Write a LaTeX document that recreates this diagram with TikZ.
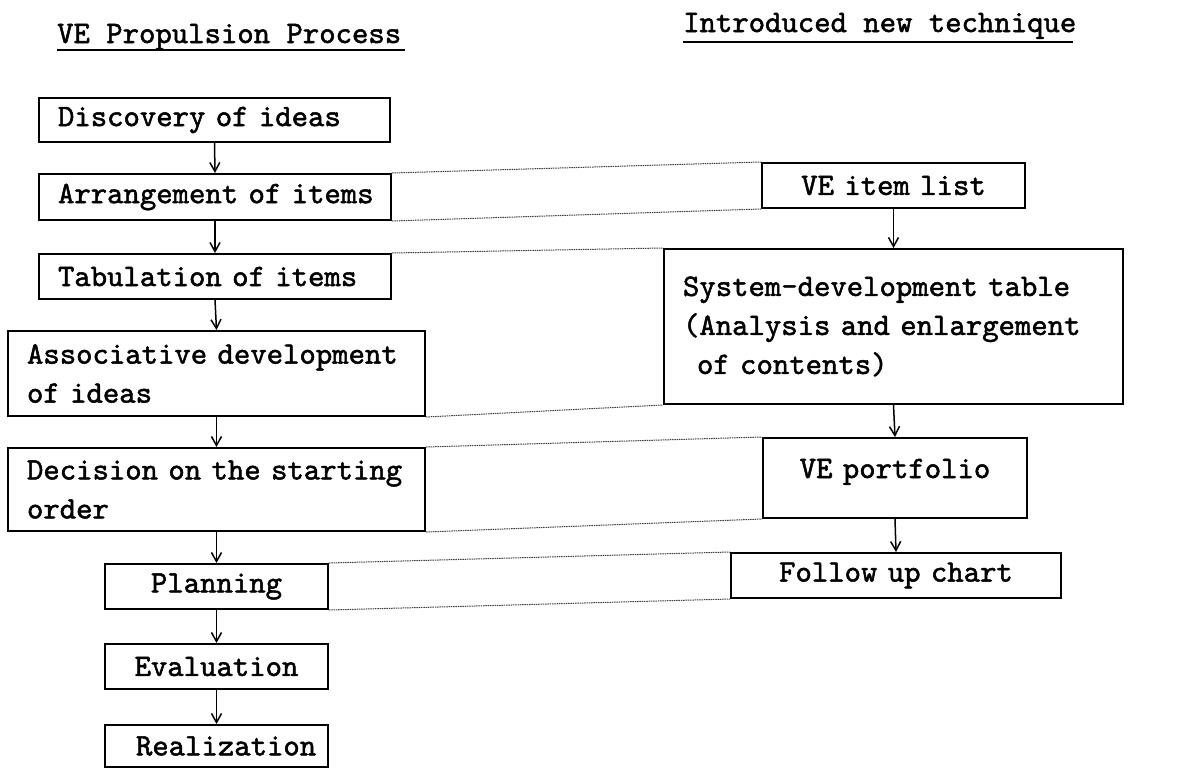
\documentclass[tikz,border=0pt]{standalone}
\usepackage{fontspec}
\newfontfamily\tw{lmmono10-regular.otf}[FakeBold=1.6]
\newcommand\twfont{\tw\fontsize{31.2}{39}\selectfont\spaceskip 0.525em\relax}
\usetikzlibrary{arrows.meta}

\begin{document}
\begin{tikzpicture}[x=1pt,y=-1pt,
  txt/.style={font=\twfont},
  box/.style={txt, draw, line width=2pt, inner xsep=19pt, inner ysep=0pt, anchor=north west},
  lbox/.style={box, align=left},
  cbox/.style={box, align=center},
  flow/.style={line width=1.5pt, -{Straight Barb[length=9pt,width=10pt]}},
  link/.style={line width=1pt, black!75, dash pattern=on 1.5pt off 0.8pt},
  head/.style={txt, anchor=base west, inner sep=0pt},
  uline/.style={line width=1.5pt}]
\useasboundingbox (0,0) rectangle (1186,769);

% column headings
\node[head] (lt) at (57,43) {VE Propulsion Process};
\draw[uline] ([yshift=-7pt]lt.base west) -- ++(348,0);
\node[head] (rt) at (683,32) {Introduced new technique};
\draw[uline] ([yshift=-10pt]rt.base west) -- ++(390,0);

% propulsion process steps
\node[lbox, minimum width=351pt, minimum height=44pt, text width=313pt] (disc) at (38,97) {\mbox{Discovery of ideas}};
\node[lbox, minimum width=352pt, minimum height=46pt, text width=314pt] (arr) at (38,173) {\mbox{Arrangement of items}};
\node[lbox, minimum width=352pt, minimum height=45pt, text width=314pt] (tab) at (38,253) {\mbox{Tabulation of items}};
\node[lbox, minimum width=417pt, minimum height=85pt, text width=379pt] (assoc) at (7,330) {\mbox{Associative development}\\\mbox{of ideas}};
\node[lbox, minimum width=417pt, minimum height=83pt, text width=379pt] (dec) at (7,447) {\mbox{Decision on the starting}\\\mbox{order}};
\node[cbox, minimum width=223pt, minimum height=45pt, text width=185pt] (plan) at (104,563) {\mbox{Planning}};
\node[cbox, minimum width=223pt, minimum height=45pt, text width=185pt] (eval) at (104,643) {\mbox{Evaluation}};
\node[cbox, minimum width=223pt, minimum height=42pt, text width=185pt] (real) at (104,724) {\mbox{\hspace*{12pt}Realization}};

% introduced techniques
\node[cbox, minimum width=263pt, minimum height=45pt, text width=225pt] (item) at (761,162) {\mbox{VE item list}};
\node[lbox, minimum width=459pt, minimum height=155pt, text width=421pt] (sys) at (663,248) {\mbox{System-development table}\\\mbox{(Analysis and enlargement}\\\mbox{\hspace*{14pt}of contents)}};
\node[cbox, minimum width=264pt, minimum height=80pt, text width=226pt, text height=21pt, text depth=21pt] (port) at (762,437) {\mbox{VE portfolio}};
\node[cbox, minimum width=330pt, minimum height=45pt, text width=292pt] (fol) at (730,552) {\mbox{Follow up chart}};

% process flow
\draw[flow] (disc.south) -- (arr.north);
\draw[flow] (arr.south) -- (tab.north);
\draw[flow] (tab.south) -- (assoc.north);
\draw[flow] (assoc.south) -- (dec.north);
\draw[flow] (dec.south) -- (plan.north);
\draw[flow] (plan.south) -- (eval.north);
\draw[flow] (eval.south) -- (real.north);
\draw[flow] (item.south) -- (sys.north);
\draw[flow] (sys.south) -- (port.north);
\draw[flow] (port.south) -- (fol.north);

% correspondence between the two columns
\draw[link] (arr.north east) -- (item.north west);
\draw[link] (arr.south east) -- (item.south west);
\draw[link] (tab.north east) -- (sys.north west);
\draw[link] (assoc.south east) -- (sys.south west);
\draw[link] (dec.north east) -- (port.north west);
\draw[link] (dec.south east) -- (port.south west);
\draw[link] (plan.north east) -- (fol.north west);
\draw[link] (plan.south east) -- (fol.south west);
\end{tikzpicture}
\end{document}
